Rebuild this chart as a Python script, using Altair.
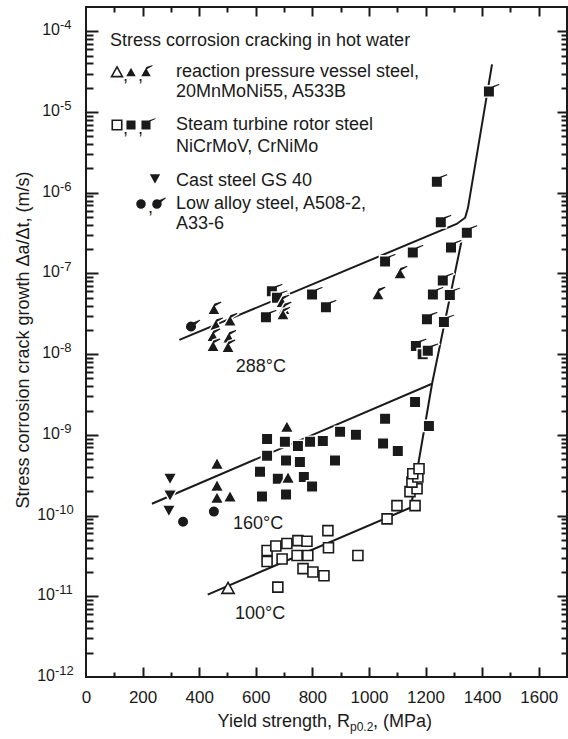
import altair as alt
import pandas as pd

# Yield strength R_p0.2 (MPa) and crack growth rate da/dt (m/s)
# RPV steel 20MnMoNi55 / A533B
rpv_100 = [(502, 1.26e-11)]
rpv_160 = [(463, 4.4e-10), (463, 2.35e-10), (463, 1.66e-10), (509, 1.72e-10),
           (710, 1.26e-9), (714, 2.95e-10)]
rpv_288 = [(452, 3.6e-8), (459, 2.3e-8), (449, 1.67e-8), (449, 1.26e-8),
           (509, 2.6e-8), (505, 1.6e-8), (502, 1.22e-8), (693, 4.4e-8),
           (700, 3.6e-8), (696, 3.1e-8), (1032, 5.5e-8), (1110, 1.0e-7)]
# Steam turbine rotor steel NiCrMoV / CrNiMo
rotor_100 = [(640, 3.7e-11), (671, 4.2e-11), (640, 2.7e-11), (693, 2.9e-11),
             (710, 4.5e-11), (749, 4.9e-11), (781, 4.8e-11), (746, 3.2e-11),
             (784, 3.2e-11), (767, 2.2e-11), (802, 2.0e-11), (841, 1.8e-11),
             (678, 1.3e-11), (855, 6.5e-11), (857, 4.0e-11), (961, 3.2e-11),
             (1064, 9.1e-11), (1099, 1.33e-10), (1163, 1.33e-10), (1145, 1.98e-10),
             (1170, 2.15e-10), (1152, 2.6e-10), (1173, 3.0e-10), (1155, 3.3e-10),
             (1177, 3.8e-10)]
rotor_160 = [(640, 8.9e-10), (640, 5.5e-10), (615, 3.5e-10), (622, 1.72e-10),
             (703, 8.2e-10), (707, 4.8e-10), (678, 2.86e-10), (707, 1.82e-10),
             (749, 7.3e-10), (756, 4.6e-10), (770, 3.0e-10), (799, 2.3e-10),
             (792, 8.2e-10), (837, 8.4e-10), (880, 4.8e-10), (898, 1.09e-9),
             (954, 1.0e-9), (1057, 1.58e-9), (1050, 7.8e-10), (1102, 6.3e-10),
             (1163, 2.55e-9), (1212, 1.29e-9)]
rotor_288 = [(636, 2.86e-8), (657, 6.0e-8), (675, 5.0e-8), (799, 5.5e-8),
             (848, 3.8e-8), (1057, 1.41e-7), (1155, 1.82e-7), (1166, 1.26e-8),
             (1190, 1.0e-8), (1205, 2.7e-8), (1208, 1.1e-8), (1226, 5.5e-8),
             (1240, 1.37e-6), (1254, 4.3e-7), (1261, 8.2e-8), (1265, 2.5e-8),
             (1286, 5.4e-8), (1290, 2.1e-7), (1346, 3.2e-7), (1424, 1.8e-5)]
# Cast steel GS 40
cast_160 = [(297, 2.86e-10), (297, 1.77e-10), (293, 1.15e-10)]
# Low alloy steel A508-2 / A33-6
lowalloy_160 = [(343, 8.4e-11), (452, 1.12e-10)]
lowalloy_288 = [(371, 2.2e-8)]

# Trend lines per test temperature (MPa, m/s)
trend_100 = [(430, 1.05e-11), (1148, 1.26e-10), (1223, 4.3e-9)]
trend_160 = [(233, 1.4e-10), (1223, 4.3e-9), (1328, 2.6e-7)]
trend_288 = [(330, 1.5e-8), (1310, 4.1e-7), (1340, 4.9e-7), (1350, 6.5e-7),
             (1435, 3.9e-5)]

temp_labels = [("288°C", 618, 6.9e-9), ("160°C", 608, 7.9e-11), ("100°C", 615, 6.0e-12)]

x_labels = list(range(0, 1601, 200))
x_major = list(range(200, 1601, 200))
x_minor = list(range(100, 1700, 200))
decades = list(range(-12, -3))
y_major = [10.0 ** e for e in range(-11, -3)]
y_minor = [k * 10.0 ** e for e in decades for k in range(2, 10) if k * 10.0 ** e <= 1.9e-4]

W, H = 481, 670
INK = "#1a1a1a"
FONT = "Liberation Sans"
XS = alt.Scale(domain=[0, 1700], nice=False, zero=False)
YS = alt.Scale(type="log", domain=[1e-12, 2e-4], nice=False)

# symbol outlines in the [-1, 1] unit box
SQ = "M-1,-1L1,-1L1,1L-1,1Z"
SQ_FLAG = "M-1,-1L0.5,-1L1.8,-1.45L2.05,-1.1L1,-0.65L1,1L-1,1Z"
TRI = "M-1,0.85L1,0.85L0,-0.95Z"
TRI_FLAG = "M-1,0.85L0,-0.95L1.1,-1.3L1.3,-1.0L0.3,-0.41L1,0.85Z"
TRI_DOWN = "M-1,-0.85L1,-0.85L0,0.95Z"
CIRC = "circle"
CIRC_FLAG = "M-1,0A1,1 0 0,1 0.5,-0.866L1.6,-1.35L1.8,-1.05L0.95,-0.31A1,1 0 1,1 -1,0Z"

one = pd.DataFrame({"a": [0]})


def frame(pairs):
    return pd.DataFrame(pairs, columns=["x", "y"])


def tick_axis(orient, offset, values, length):
    # an axis pulled onto the opposite frame edge so that its ticks point inward
    return alt.Axis(orient=orient, offset=offset, values=values, labels=False,
                    domain=False, grid=False, title=None, ticks=True, tickSize=length,
                    tickWidth=2, tickColor=INK, zindex=1)


def xy(xaxis=None, yaxis=None):
    return dict(x=alt.X("x:Q", scale=XS, axis=xaxis),
                y=alt.Y("y:Q", scale=YS, axis=yaxis))


def symbol_mark(shape, size, hollow):
    if hollow:
        return dict(shape=shape, size=size, filled=True, fill="white", stroke=INK,
                    strokeWidth=1.6, opacity=1, fillOpacity=1, strokeOpacity=1)
    return dict(shape=shape, size=size, filled=True, fill=INK, stroke="white",
                strokeWidth=1.4, opacity=1, fillOpacity=1, strokeOpacity=1)


def symbols(pairs, shape, size, hollow=False, xaxis=None, yaxis=None):
    return alt.Chart(frame(pairs)).mark_point(**symbol_mark(shape, size, hollow)).encode(
        **xy(xaxis, yaxis))


def key_symbol(shape, size, px, py, hollow=False):
    return alt.Chart(one).mark_point(**symbol_mark(shape, size, hollow)).encode(
        x=alt.value(px), y=alt.value(py))


def label(text, px, py, size=18, align="left", **kw):
    return alt.Chart(one).mark_text(text=text, font=FONT, fontSize=size, color=INK,
                                    align=align, baseline="middle", **kw).encode(
        x=alt.value(px), y=alt.value(py))


# trend lines, carrying the bottom tick labels
trend_rows = []
for temp, pts in (("100", trend_100), ("160", trend_160), ("288", trend_288)):
    for i, (x, y) in enumerate(pts):
        trend_rows.append({"temp": temp, "order": i, "x": x, "y": y})
bottom_labels = alt.Axis(orient="bottom", values=x_labels, format="d", ticks=False,
                         domain=False, grid=False, title=None, labelFont=FONT,
                         labelFontSize=17, labelColor=INK, labelPadding=12,
                         labelFlush=False, labelOverlap=False)
lines = alt.Chart(pd.DataFrame(trend_rows)).mark_line(color=INK, strokeWidth=2).encode(
    **xy(xaxis=bottom_labels), detail="temp:N", order="order:Q")

# decade labels 10^n on the left
dec = pd.DataFrame({"e": decades})
dec["y"] = 10.0 ** dec["e"]
dec["sup"] = dec["e"].astype(str)
dec_labels = []
for cond, base_x in (("datum.e > -10", -26), ("datum.e <= -10", -31)):
    src = alt.Chart(dec).transform_filter(cond)
    dec_labels.append(src.mark_text(text="10", font=FONT, fontSize=16, color=INK,
                                    align="right", baseline="middle", dy=-1).encode(
        x=alt.value(base_x), y=alt.Y("y:Q", scale=YS, axis=None)))
    dec_labels.append(src.mark_text(font=FONT, fontSize=13, color=INK, align="left",
                                    baseline="middle", dy=-6).encode(
        x=alt.value(base_x), y=alt.Y("y:Q", scale=YS, axis=None), text="sup:N"))

# temperature labels
temps = alt.Chart(pd.DataFrame(temp_labels, columns=["t", "x", "y"])).mark_text(
    font=FONT, fontSize=18, color=INK, align="center", baseline="middle").encode(
    **xy(), text="t:N")

# the first four symbol layers also carry the inward frame ticks:
# bottom / left majors, bottom / left minors, top / right majors, top / right minors
data_layers = [
    symbols(rotor_100, SQ, 100, hollow=True,
            xaxis=tick_axis("top", -H, x_major, 10),
            yaxis=tick_axis("right", -W, y_major, 12)),
    symbols(rotor_160, SQ, 130,
            xaxis=tick_axis("top", -H, x_minor, 5),
            yaxis=tick_axis("right", -W, y_minor, 7)),
    symbols(rotor_288, SQ_FLAG, 130,
            xaxis=tick_axis("bottom", -H, x_major, 9),
            yaxis=tick_axis("left", -W, y_major, 10)),
    symbols(rpv_160, TRI, 180,
            xaxis=tick_axis("bottom", -H, x_minor, 5),
            yaxis=tick_axis("left", -W, y_minor, 6)),
    symbols(rpv_100, TRI, 150, hollow=True),
    symbols(rpv_288, TRI_FLAG, 170),
    symbols(cast_160, TRI_DOWN, 180),
    symbols(lowalloy_160, CIRC, 130),
    symbols(lowalloy_288, CIRC_FLAG, 130),
    temps,
]

# key block in the upper left
key = [
    label("Stress corrosion cracking in hot water", 24, 34),
    key_symbol(TRI, 120, 31, 65, hollow=True), label(",", 37, 69),
    key_symbol(TRI, 140, 45, 65), label(",", 52, 69),
    key_symbol(TRI_FLAG, 140, 60, 65),
    label("reaction pressure vessel steel,", 90, 65),
    label("20MnMoNi55, A533B", 90, 85),
    key_symbol(SQ, 90, 31, 118, hollow=True), label(",", 37, 122),
    key_symbol(SQ, 110, 45, 118), label(",", 52, 122),
    key_symbol(SQ_FLAG, 110, 60, 118),
    label("Steam turbine rotor steel", 90, 118),
    label("NiCrMoV, CrNiMo", 90, 140),
    key_symbol(TRI_DOWN, 160, 69, 172),
    label("Cast steel GS 40", 90, 174),
    key_symbol(CIRC, 120, 55, 197), label(",", 62, 201),
    key_symbol(CIRC_FLAG, 120, 71, 197),
    label("Low alloy steel, A508-2,", 90, 197),
    label("A33-6", 90, 217),
]

# axis titles
titles = [
    label("Stress corrosion crack growth \u0394a/\u0394t, (m/s)", -62, 333,
          align="center", angle=270),
    label("Yield strength, R", 264, 715, align="right"),
    label("p0.2", 264, 720, size=12),
    label(", (MPa)", 287, 715),
]

chart = alt.layer(
    lines, *data_layers, *dec_labels, *key, *titles
).resolve_axis(
    x="independent", y="independent"
).properties(
    width=W, height=H,
    padding={"left": 86, "top": 7, "right": 1, "bottom": 62},
    autosize=alt.AutoSizeParams(type="none"),
    background="white",
).configure_view(stroke=INK, strokeWidth=2)

chart.save("out.html", embed_options={"renderer": "svg", "actions": False})
